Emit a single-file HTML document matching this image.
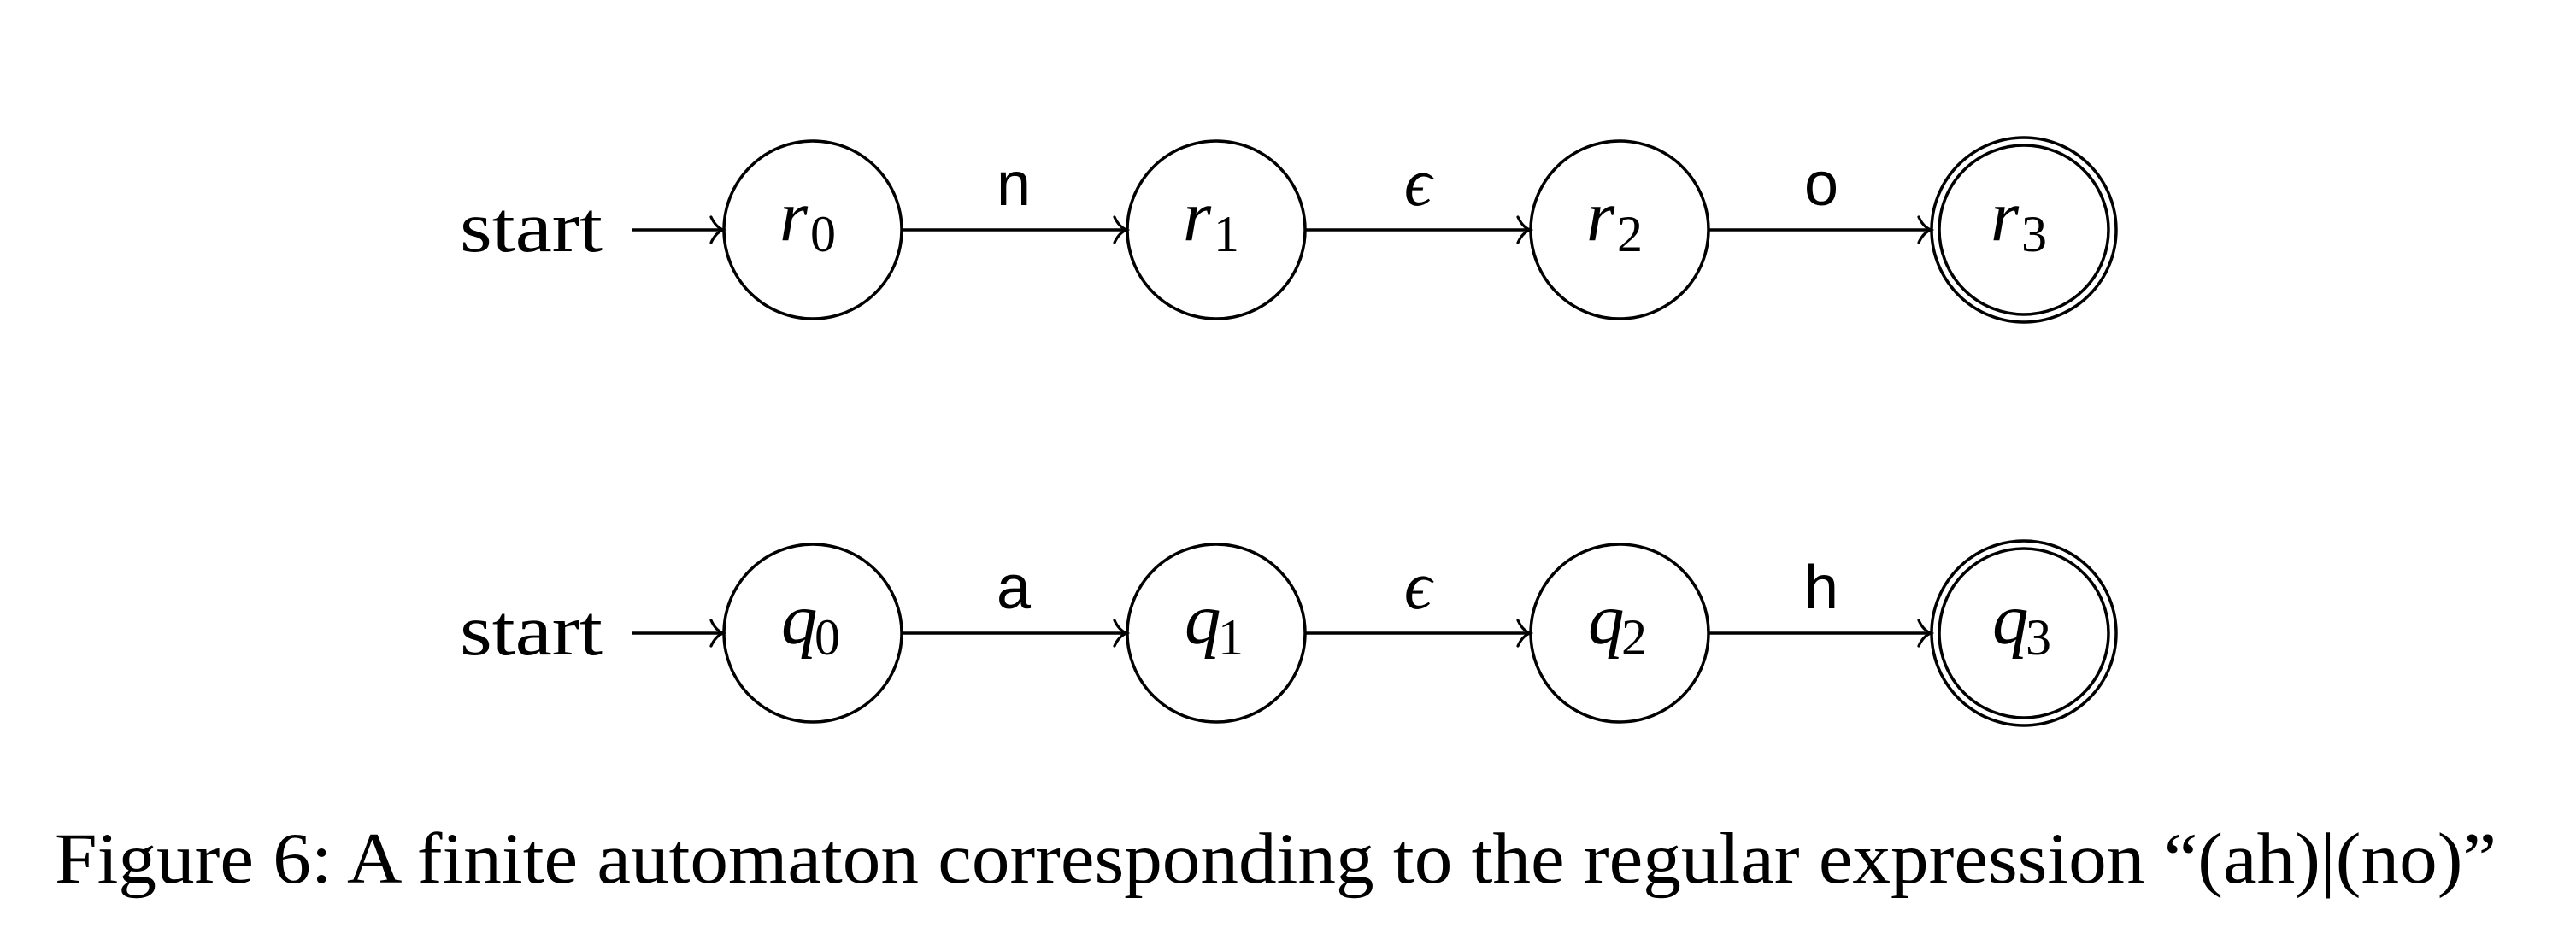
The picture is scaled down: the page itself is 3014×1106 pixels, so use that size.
<!DOCTYPE html>
<html><head><meta charset="utf-8"><style>html,body{margin:0;padding:0;background:#fff}svg{display:block}</style></head>
<body>
<svg width="3014" height="1106" viewBox="0 0 3014 1106" xmlns="http://www.w3.org/2000/svg">
<defs>
<g id="ah"><path d="M-14,-15 C-10,-6 -5,-2 0,0 C-5,2 -10,6 -14,15" fill="none" stroke="#000" stroke-width="3.2" stroke-linecap="round"/></g>
</defs>
<g stroke="#000" stroke-width="3.5" fill="none">
<!-- row 1 -->
<circle cx="951" cy="269" r="104"/>
<circle cx="1423" cy="269" r="104"/>
<circle cx="1895" cy="269" r="104"/>
<circle cx="2368" cy="269" r="108"/>
<circle cx="2368" cy="269" r="99"/>
<line x1="740" y1="269" x2="845" y2="269"/>
<line x1="1055" y1="269" x2="1317" y2="269"/>
<line x1="1527" y1="269" x2="1789" y2="269"/>
<line x1="1999" y1="269" x2="2258" y2="269"/>
<!-- row 2 -->
<circle cx="951" cy="741" r="104"/>
<circle cx="1423" cy="741" r="104"/>
<circle cx="1895" cy="741" r="104"/>
<circle cx="2368" cy="741" r="108"/>
<circle cx="2368" cy="741" r="99"/>
<line x1="740" y1="741" x2="845" y2="741"/>
<line x1="1055" y1="741" x2="1317" y2="741"/>
<line x1="1527" y1="741" x2="1789" y2="741"/>
<line x1="1999" y1="741" x2="2258" y2="741"/>
</g>
<use href="#ah" x="846" y="269"/><use href="#ah" x="1318" y="269"/><use href="#ah" x="1790" y="269"/><use href="#ah" x="2259" y="269"/>
<use href="#ah" x="846" y="741"/><use href="#ah" x="1318" y="741"/><use href="#ah" x="1790" y="741"/><use href="#ah" x="2259" y="741"/>
<g font-family="Liberation Serif, serif" font-size="85" fill="#000">
<text x="538" y="294" textLength="167" lengthAdjust="spacingAndGlyphs">start</text>
<text x="538" y="766" textLength="167" lengthAdjust="spacingAndGlyphs">start</text>
</g>
<g font-family="Liberation Serif, serif" fill="#000">
<text x="912" y="281" font-size="85" font-style="italic">r</text><text x="948" y="294" font-size="60">0</text>
<text x="1384" y="281" font-size="85" font-style="italic">r</text><text x="1420" y="294" font-size="60">1</text>
<text x="1856" y="281" font-size="85" font-style="italic">r</text><text x="1892" y="294" font-size="60">2</text>
<text x="2329" y="281" font-size="85" font-style="italic">r</text><text x="2365" y="294" font-size="60">3</text>
<text x="1858" y="753" font-size="85" font-style="italic">q</text><text x="1897" y="766" font-size="60">2</text>
<text x="914" y="753" font-size="85" font-style="italic">q</text><text x="953" y="766" font-size="60">0</text>
<text x="1386" y="753" font-size="85" font-style="italic">q</text><text x="1425" y="766" font-size="60">1</text>
<text x="2331" y="753" font-size="85" font-style="italic">q</text><text x="2370" y="766" font-size="60">3</text>
<text x="1659" y="240" font-size="80" font-style="italic" text-anchor="middle">ϵ</text>
<text x="1659" y="712" font-size="80" font-style="italic" text-anchor="middle">ϵ</text>
</g>
<g font-family="Liberation Sans, sans-serif" font-size="72" fill="#000" text-anchor="middle">
<text x="1186" y="240">n</text>
<text x="2131" y="240">o</text>
<text x="1186" y="712">a</text>
<text x="2131" y="712">h</text>
</g>
<text x="64" y="1033" font-family="Liberation Serif, serif" font-size="85" fill="#000" textLength="2857" lengthAdjust="spacingAndGlyphs">Figure 6:  A finite automaton corresponding to the regular expression “(ah)|(no)”</text>
</svg>
</body></html>
